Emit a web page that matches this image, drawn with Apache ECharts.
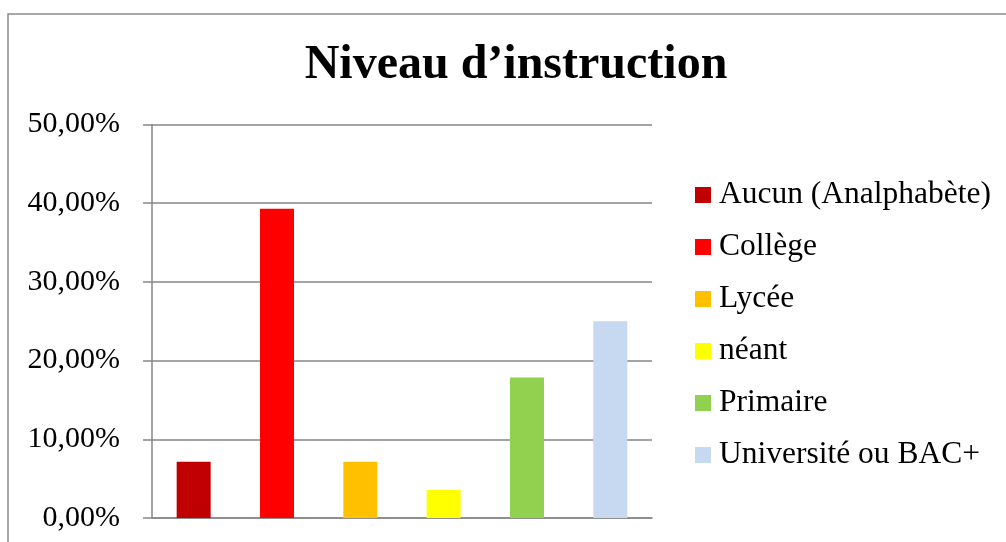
<!DOCTYPE html>
<html>
<head>
<meta charset="utf-8">
<script src="https://cdn.jsdelivr.net/npm/echarts@6/dist/echarts.min.js"></script>
<style>
  html, body { margin: 0; padding: 0; background: #fff; }
  #chart { width: 1006px; height: 542px; }
</style>
</head>
<body>
<div id="chart"></div>
<script>
// catégories et valeurs (en %)
const categories = ["Aucun (Analphabète)", "Collège", "Lycée", "néant", "Primaire", "Université ou BAC+"];
const values = [7.14, 39.29, 7.14, 3.57, 17.86, 25.0];
const colors = ["#C00000", "#FF0000", "#FFC000", "#FFFF00", "#92D050", "#C6D9F0"];
const yTicks = { min: 0, max: 50, interval: 10 };

const chart = echarts.init(document.getElementById("chart"));

// une série par catégorie pour avoir la légende
const series = categories.map((name, i) => {
  return {
    name: name,
    type: "bar",
    stack: "all",
    barWidth: 34,
    itemStyle: { color: colors[i] },
    data: values.map((v, j) => (j === i ? v : "-")),
  };
});

const option = {
  animation: false,
  backgroundColor: "#ffffff",
  title: {
    text: "Niveau d’instruction",
    left: 511,
    top: 37,
    textAlign: "center",
    textStyle: {
      fontFamily: "Liberation Serif",
      fontSize: 48,
      fontWeight: "bold",
      color: "#000",
    },
  },
  graphic: [
    {
      type: "rect",
      shape: { x: 8, y: 14, width: 1100, height: 600 },
      style: { fill: "none", stroke: "#8c8c8c", lineWidth: 1.5 },
      silent: true,
    },
  ],
  grid: {
    left: 152,
    right: 354,
    top: 124.5,
    bottom: 24,
  },
  legend: {
    orient: "vertical",
    left: 690,
    top: 172,
    icon: "rect",
    itemWidth: 16,
    itemHeight: 16,
    itemGap: 16,
    textStyle: {
      fontFamily: "Liberation Serif",
      fontSize: 31.5,
      lineHeight: 36,
      color: "#000",
      padding: [0, 0, 0, 3],
    },
    data: categories,
  },
  xAxis: {
    type: "category",
    data: categories,
    axisLine: { lineStyle: { color: "#868686", width: 1.5 } },
    axisTick: { show: false },
    axisLabel: { show: false },
  },
  yAxis: {
    type: "value",
    min: yTicks.min,
    max: yTicks.max,
    interval: yTicks.interval,
    axisLine: { show: true, lineStyle: { color: "#868686", width: 1.5 } },
    axisTick: { show: true, length: 9, lineStyle: { color: "#868686", width: 1.5 } },
    splitLine: { lineStyle: { color: "#868686", width: 1.5 } },
    axisLabel: {
      margin: 32,
      fontFamily: "Liberation Serif",
      fontSize: 30,
      color: "#000",
      formatter: (v) => v.toFixed(2).replace(".", ",") + "%",
    },
  },
  series: series,
};

chart.setOption(option);
</script>
</body>
</html>
